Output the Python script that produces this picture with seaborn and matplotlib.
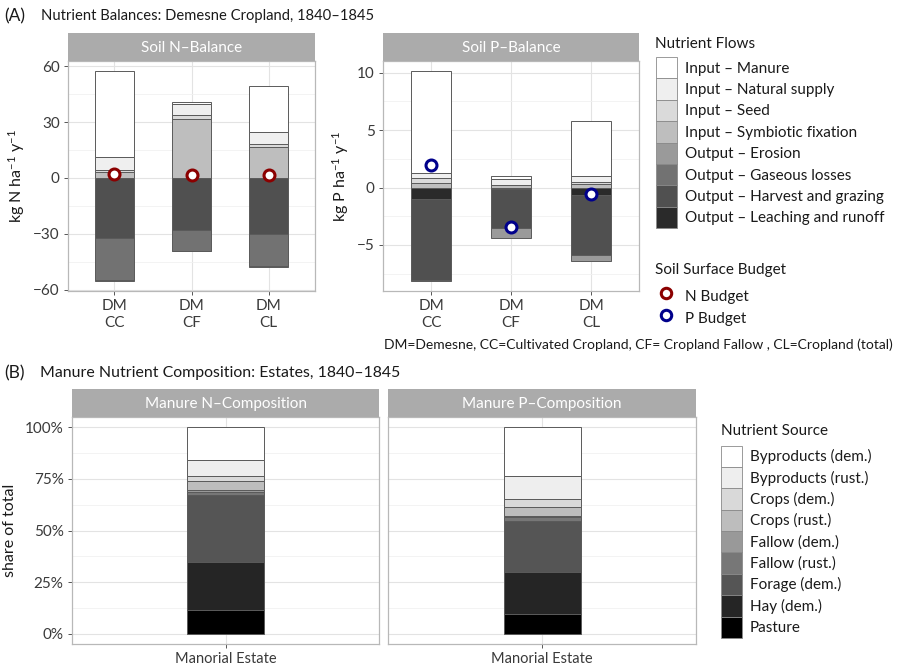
import numpy as np
import matplotlib
matplotlib.use("Agg")
import matplotlib.pyplot as plt
from matplotlib.patches import Patch
from matplotlib.lines import Line2D
from matplotlib.ticker import FuncFormatter, MultipleLocator
import seaborn as sns

# ---------------- data ----------------
sites = ["DM\nCC", "DM\nCF", "DM\nCL"]
flows = ["Input – Manure", "Input – Natural supply", "Input – Seed",
         "Input – Symbiotic fixation", "Output – Erosion",
         "Output – Gaseous losses", "Output – Harvest and grazing",
         "Output – Leaching and runoff"]

# soil N balance (kg N ha-1 y-1) per site: CC, CF, CL
n_manure = [46.0, 1.2, 25.0]
n_natural = [7.2, 5.7, 6.2]
n_seed = [1.0, 2.5, 1.8]
n_symbiotic = [3.0, 31.5, 16.5]
n_erosion = [-0.4, -0.3, -0.3]
n_gaseous = [-22.6, -11.3, -17.4]
n_harvest = [-32.2, -27.9, -30.0]
n_leaching = [0.0, 0.0, 0.0]
n_budget = [2.0, 1.4, 1.8]

# soil P balance (kg P ha-1 y-1) per site: CC, CF, CL
p_manure = [8.8, 0.25, 4.8]
p_natural = [0.5, 0.5, 0.5]
p_seed = [0.45, 0.05, 0.2]
p_symbiotic = [0.35, 0.2, 0.3]
p_erosion = [-0.06, -0.85, -0.46]
p_gaseous = [0.0, 0.0, 0.0]
p_harvest = [-7.0, -3.38, -5.26]
p_leaching = [-1.04, -0.17, -0.64]
p_budget = [2.0, -3.4, -0.56]

# manure nutrient composition (share of total, %)
estate = ["Manorial Estate"]
sources = ["Byproducts (dem.)", "Byproducts (rust.)", "Crops (dem.)",
           "Crops (rust.)", "Fallow (dem.)", "Fallow (rust.)",
           "Forage (dem.)", "Hay (dem.)", "Pasture"]
manure_n_share = [15.6, 7.9, 2.7, 4.2, 1.1, 1.4, 32.2, 23.6, 11.3]
manure_p_share = [23.5, 11.4, 3.9, 4.2, 0.7, 1.7, 24.5, 20.6, 9.5]

# ---------------- style ----------------
flow_colors = ["#FFFFFF", "#EFEFEF", "#DADADA", "#BEBEBE",
               "#9A9A9A", "#727272", "#505050", "#2A2A2A"]
source_colors = ["#FFFFFF", "#EEEEEE", "#D9D9D9", "#BDBDBD", "#999999",
                 "#777777", "#555555", "#252525", "#000000"]
EDGE = "#5A5A5A"
TXT = "#1A1A1A"
TICK = "#3A3A3A"
LEG_FS = 11.0
KEY_H = 1.777   # gives ~21 px rows at 11 pt

sns.set_theme(style="white")
plt.rcParams["font.family"] = ["Lato", "DejaVu Sans"]
plt.rcParams["mathtext.default"] = "regular"

W, H = 897, 667
fig = plt.figure(figsize=(W / 100, H / 100), dpi=100)
fig.patch.set_facecolor("white")


def px_axes(x0, x1, y0, y1):
    return fig.add_axes([x0 / W, 1 - y1 / H, (x1 - x0) / W, (y1 - y0) / H])


def fig_text(x, y, s, **kw):
    kw.setdefault("color", TXT)
    kw.setdefault("va", "center")
    kw.setdefault("ha", "left")
    return fig.text(x / W, 1 - y / H, s, **kw)


def strip(x0, x1, y0, y1, label):
    s = px_axes(x0, x1, y0, y1)
    s.set_facecolor("#ABABAB")
    s.set_xticks([])
    s.set_yticks([])
    for sp in s.spines.values():
        sp.set_visible(False)
    s.text(0.5, 0.47, label, ha="center", va="center", color="white",
           fontsize=11, transform=s.transAxes)


def style_panel(ax, minor):
    ax.set_facecolor("white")
    for sp in ax.spines.values():
        sp.set_color("#B8B8B8")
        sp.set_linewidth(0.9)
    ax.yaxis.set_minor_locator(MultipleLocator(minor))
    ax.grid(True, which="major", color="#E3E3E3", linewidth=0.8)
    ax.grid(True, which="minor", axis="y", color="#F1F1F1", linewidth=0.6)
    ax.set_axisbelow(True)
    ax.tick_params(axis="both", which="major", length=3, width=0.7,
                   color="#555555", labelcolor=TICK, labelsize=11, pad=3,
                   left=True, bottom=True)
    ax.tick_params(axis="both", which="minor", length=0)


def stacked_balance(ax, values, colors, width=0.5):
    x = np.arange(len(sites))
    pos_base = np.zeros(len(sites))
    neg_base = np.zeros(len(sites))
    for vals, col in reversed(list(zip(values, colors))):
        vals = np.asarray(vals, dtype=float)
        pos = np.clip(vals, 0, None)
        neg = np.clip(vals, None, 0)
        m = pos > 0
        if m.any():
            ax.bar(x[m], pos[m], bottom=pos_base[m], width=width, color=col,
                   edgecolor=EDGE, linewidth=0.7, zorder=2)
        m = neg < 0
        if m.any():
            ax.bar(x[m], neg[m], bottom=neg_base[m], width=width, color=col,
                   edgecolor=EDGE, linewidth=0.7, zorder=2)
        pos_base += pos
        neg_base += neg
    ax.set_xticks(x)
    ax.set_xticklabels(sites, linespacing=1.2)
    ax.set_xlim(-0.6, len(sites) - 0.4)


def key_legend(handles, labels, x, y_top):
    leg = fig.legend(handles, labels, loc="upper left",
                     bbox_to_anchor=(x / W, 1 - y_top / H), frameon=False,
                     fontsize=LEG_FS, handlelength=1.37, handleheight=KEY_H,
                     labelspacing=0.0, handletextpad=0.5, borderaxespad=0,
                     borderpad=0)
    for t in leg.get_texts():
        t.set_color(TXT)
    return leg


# ---------------- titles ----------------
fig_text(4, 16, "(A)", fontsize=12.5)
fig_text(41, 16, "Nutrient Balances: Demesne Cropland, 1840–1845", fontsize=10.6)
fig_text(4, 373, "(B)", fontsize=12.5)
fig_text(40, 373, "Manure Nutrient Composition: Estates, 1840–1845", fontsize=11.4)

# ---------------- panel A: N balance ----------------
axN = px_axes(68, 315, 61, 291)
strip(68, 315, 33, 61, "Soil N–Balance")
style_panel(axN, 15)
stacked_balance(axN, [n_manure, n_natural, n_seed, n_symbiotic,
                      n_erosion, n_gaseous, n_harvest, n_leaching], flow_colors)
axN.set_ylim(-60.8, 62.8)
axN.set_yticks([-60, -30, 0, 30, 60])
sns.scatterplot(x=np.arange(len(sites)), y=n_budget, ax=axN, s=62,
                facecolor="white", edgecolor="#8B0000", linewidth=2.2,
                zorder=5, legend=False)
axN.set_ylabel(r"kg N ha$^{-1}$ y$^{-1}$", fontsize=11.5, color=TXT, labelpad=4)

# ---------------- panel A: P balance ----------------
axP = px_axes(383, 639, 61, 291)
strip(383, 639, 33, 61, "Soil P–Balance")
style_panel(axP, 2.5)
stacked_balance(axP, [p_manure, p_natural, p_seed, p_symbiotic,
                      p_erosion, p_gaseous, p_harvest, p_leaching], flow_colors)
axP.set_ylim(-9.0, 11.0)
axP.set_yticks([-5, 0, 5, 10])
sns.scatterplot(x=np.arange(len(sites)), y=p_budget, ax=axP, s=62,
                facecolor="white", edgecolor="#00008B", linewidth=2.2,
                zorder=5, legend=False)
axP.set_ylabel(r"kg P ha$^{-1}$ y$^{-1}$", fontsize=11.5, color=TXT, labelpad=4)

for ax in (axN, axP):
    ax.set_xlabel("")

# legends for panel A
flow_handles = [Patch(facecolor=c, edgecolor="#8A8A8A", linewidth=0.6)
                for c in flow_colors]
fig_text(655, 44, "Nutrient Flows", fontsize=11)
key_legend(flow_handles, flows, 656, 57)

budget_handles = [
    Line2D([], [], marker="o", linestyle="none", markersize=7.5,
           markerfacecolor="white", markeredgecolor="#8B0000", markeredgewidth=2.2),
    Line2D([], [], marker="o", linestyle="none", markersize=7.5,
           markerfacecolor="white", markeredgecolor="#00008B", markeredgewidth=2.2),
]
fig_text(655, 270, "Soil Surface Budget", fontsize=11)
key_legend(budget_handles, ["N Budget", "P Budget"], 656, 285.5)

fig_text(893, 345,
         "DM=Demesne, CC=Cultivated Cropland, CF= Cropland Fallow , CL=Cropland (total)",
         fontsize=10, ha="right")


# ---------------- panel B: manure composition ----------------
def composition(ax, shares):
    base = 0.0
    for val, col in reversed(list(zip(shares, source_colors))):
        ax.bar([0], [val], bottom=base, width=0.3, color=col,
               edgecolor=EDGE, linewidth=0.7, zorder=2)
        base += val
    ax.set_xticks([0])
    ax.set_xticklabels(estate)
    ax.set_xlim(-0.6, 0.6)
    ax.set_ylim(-5, 105)
    ax.set_yticks([0, 25, 50, 75, 100])


axBN = px_axes(72, 379, 417, 644)
strip(72, 379, 389, 417, "Manure N–Composition")
style_panel(axBN, 12.5)
composition(axBN, manure_n_share)
axBN.yaxis.set_major_formatter(FuncFormatter(lambda v, p: f"{v:.0f}%"))
axBN.set_ylabel("share of total", fontsize=11.5, color=TXT, labelpad=6)

axBP = px_axes(388, 696, 417, 644)
strip(388, 696, 389, 417, "Manure P–Composition")
style_panel(axBP, 12.5)
composition(axBP, manure_p_share)
axBP.tick_params(axis="y", which="both", left=False, labelleft=False)

for ax in (axBN, axBP):
    ax.tick_params(axis="x", labelsize=10.5)

source_handles = [Patch(facecolor=c, edgecolor="#8A8A8A", linewidth=0.6)
                  for c in source_colors]
fig_text(721, 431, "Nutrient Source", fontsize=11)
key_legend(source_handles, sources, 721, 445.5)

fig.savefig("out.png", dpi=100, facecolor="white")
